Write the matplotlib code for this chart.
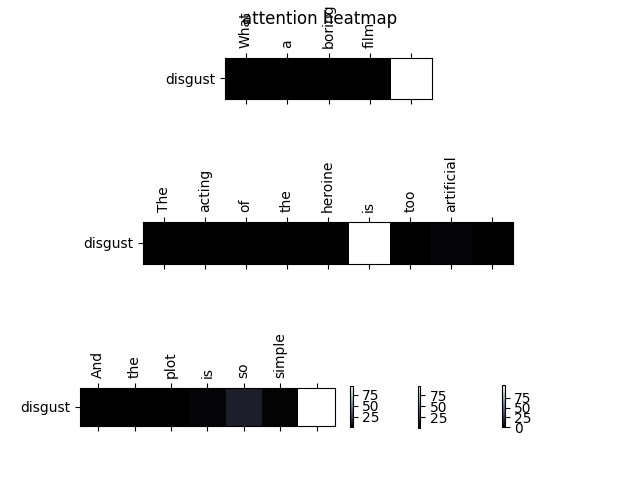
import numpy as np
import matplotlib
matplotlib.use('Agg')
import matplotlib.pyplot as plt

# attention weights (%) for the "disgust" class, one row per sentence
words1 = ['What', 'a', 'boring', 'film', '']
att1 = [0.4, 0.3, 0.5, 0.8, 95.0]

words2 = ['The', 'acting', 'of', 'the', 'heroine', 'is', 'too', 'artificial', '']
att2 = [0.6, 0.5, 0.7, 0.6, 1.0, 96.0, 1.2, 2.8, 1.4]

words3 = ['And', 'the', 'plot', 'is', 'so', 'simple', '']
att3 = [0.0, 0.4, 0.6, 2.8, 15.0, 1.8, 108.0]

label = ['disgust']

fig = plt.figure(figsize=(6.4, 4.8), dpi=100)

# axes boxes (figure fraction) for heatmaps and their colorbars
boxes = [[0.3516, 0.7931, 0.3234, 0.0871],
         [0.2234, 0.4510, 0.5780, 0.0865],
         [0.1250, 0.1131, 0.3980, 0.0785]]
cboxes = [[0.5469, 0.1094, 0.0039, 0.0865],
          [0.6531, 0.1083, 0.0039, 0.0875],
          [0.7844, 0.1104, 0.0039, 0.0875]]

rows = [(words1, att1), (words2, att2), (words3, att3)]
for (words, att), box, cbox in zip(rows, boxes, cboxes):
    ax = fig.add_axes(box)
    data = np.array([att])
    im = ax.imshow(data, cmap='bone', aspect='auto')
    ax.set_xticks(np.arange(len(words)))
    ax.set_xticklabels(words, rotation=90)
    ax.set_yticks([0])
    ax.set_yticklabels(label)
    ax.tick_params(top=True, bottom=True, labeltop=True, labelbottom=False)
    cax = fig.add_axes(cbox)
    cb = fig.colorbar(im, cax=cax)
    cb.set_ticks([t for t in [0, 25, 50, 75] if data.min() <= t <= data.max()])

fig.suptitle('attention heatmap')
plt.savefig('out.png', dpi=100)
